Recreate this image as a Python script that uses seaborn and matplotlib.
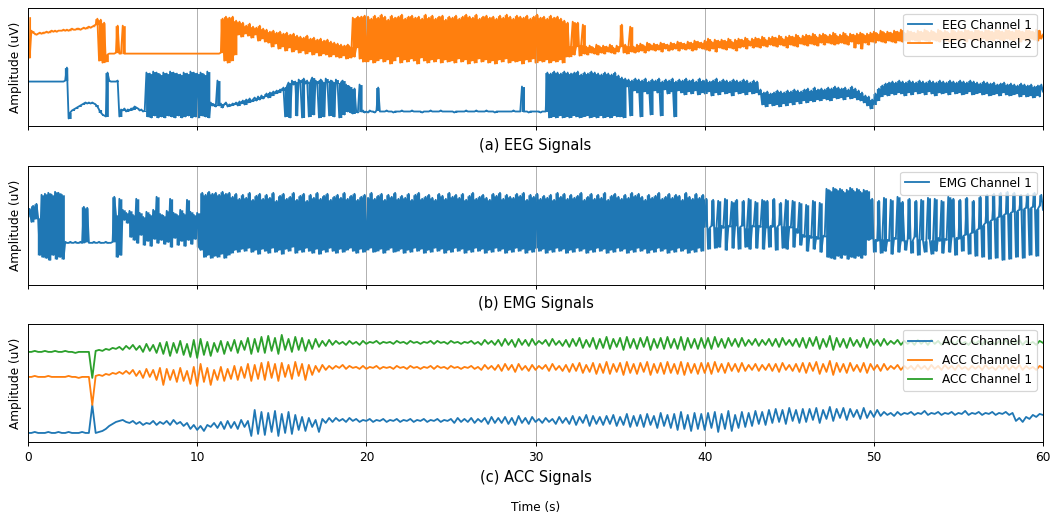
import numpy as np
import pandas as pd
import matplotlib
matplotlib.use("Agg")
import matplotlib.pyplot as plt
import seaborn as sns

plt.rcParams["font.family"] = ["DejaVu Sans"]

# ---------------- data ----------------
DT_FAST = 0.1   # EEG / EMG sampling step (s), one row = 1 s
DT_ACC = 0.2    # ACC sampling step (s), one row = 2 s
XTICKS = [0, 10, 20, 30, 40, 50, 60]

eeg_ch1 = [
    45, 45, 45, 45, 45, 45, 45, 45, 45, 45,
    45, 45, 45, 45, 45, 45, 45, 45, 45, 45,
    45, 45, 46, 59, 8, 14, 16, 17, 18, 19,
    20, 21, 22, 23, 24, 23, 24, 23, 24, 23,
    22, 20, 17, 14, 12, 11, 10, 54, 46, 45,
    45, 45, 45, 46, 10, 17, 16, 18, 15, 17,
    16, 18, 17, 20, 19, 18, 16, 17, 15, 16,
    54, 10, 53, 9, 55, 11, 54, 9, 52, 10,
    54, 9, 53, 11, 55, 10, 54, 9, 53, 11,
    52, 9, 54, 10, 53, 11, 55, 9, 54, 10,
    53, 9, 54, 11, 52, 10, 55, 9, 24, 21,
    22, 20, 46, 21, 23, 19, 22, 24, 20, 22,
    21, 23, 22, 24, 21, 25, 23, 26, 22, 27,
    24, 28, 25, 27, 29, 26, 30, 27, 31, 28,
    30, 33, 29, 34, 31, 35, 33, 36, 34, 37,
    36, 39, 10, 40, 44, 9, 46, 42, 45, 11,
    47, 44, 9, 48, 43, 46, 10, 45, 49, 12,
    46, 43, 9, 47, 45, 10, 48, 44, 11, 46,
    45, 10, 47, 43, 9, 44, 46, 12, 42, 15,
    40, 14, 13, 38, 15, 14, 42, 15, 16, 14,
    15, 14, 16, 15, 15, 14, 16, 39, 15, 15,
    15, 15, 16, 15, 15, 15, 14, 15, 15, 15,
    15, 16, 15, 15, 15, 15, 15, 16, 15, 15,
    15, 15, 15, 14, 15, 15, 15, 15, 16, 15,
    15, 15, 15, 15, 16, 15, 15, 15, 15, 15,
    15, 15, 14, 15, 15, 15, 15, 15, 15, 16,
    15, 15, 15, 15, 15, 16, 15, 15, 15, 15,
    15, 16, 15, 15, 15, 15, 14, 15, 15, 15,
    15, 15, 15, 15, 15, 15, 15, 16, 15, 15,
    15, 15, 40, 15, 15, 15, 14, 15, 15, 15,
    15, 15, 15, 14, 15, 15, 15, 54, 9, 53,
    10, 55, 9, 54, 11, 53, 9, 55, 10, 54,
    9, 53, 11, 54, 10, 55, 9, 52, 10, 54,
    11, 53, 9, 55, 10, 54, 9, 53, 11, 52,
    9, 54, 10, 53, 9, 52, 11, 54, 10, 51,
    10, 49, 9, 48, 40, 47, 11, 46, 36, 48,
    34, 47, 10, 46, 35, 48, 33, 45, 12, 47,
    36, 46, 34, 48, 11, 45, 37, 47, 33, 46,
    35, 48, 10, 45, 36, 47, 34, 46, 32, 48,
    35, 46, 33, 47, 36, 45, 32, 48, 34, 46,
    33, 47, 35, 45, 31, 46, 34, 48, 32, 45,
    35, 47, 33, 46, 34, 45, 31, 47, 35, 46,
    33, 45, 34, 47, 32, 46, 35, 44, 33, 46,
    34, 45, 32, 37, 22, 34, 20, 35, 23, 33,
    21, 34, 22, 36, 20, 35, 23, 34, 21, 36,
    24, 35, 22, 37, 25, 36, 23, 35, 26, 37,
    24, 38, 26, 36, 25, 39, 27, 37, 26, 38,
    28, 37, 27, 39, 26, 38, 29, 40, 28, 39,
    29, 38, 27, 39, 30, 37, 28, 40, 29, 38,
    27, 36, 26, 34, 24, 31, 21, 30, 18, 27,
    22, 33, 26, 38, 30, 41, 32, 43, 31, 44,
    33, 45, 32, 44, 34, 46, 33, 45, 31, 44,
    34, 46, 32, 45, 35, 44, 33, 46, 34, 45,
    32, 44, 35, 46, 33, 45, 31, 44, 34, 46,
    33, 45, 34, 44, 32, 46, 35, 45, 33, 44,
    34, 46, 32, 45, 33, 44, 35, 46, 32, 45,
    33, 44, 34, 43, 32, 45, 33, 44, 31, 43,
    32, 44, 33, 42, 31, 43, 34, 44, 32, 42,
    31, 43, 32, 42, 33, 41, 30, 43, 32, 42,
    30, 41, 31, 42, 29, 40, 31, 41, 30, 42,
    35,
]

eeg_ch2 = [
    110, 69, 96, 94, 93, 92, 93, 94, 93, 94,
    94, 95, 94, 95, 96, 95, 96, 95, 96, 96,
    96, 97, 96, 97, 96, 97, 98, 97, 97, 98,
    98, 97, 98, 99, 98, 99, 100, 99, 100, 101,
    102, 108, 66, 107, 64, 104, 65, 72, 73, 73,
    73, 73, 74, 101, 73, 73, 101, 73, 73, 73,
    73, 73, 73, 73, 73, 73, 73, 73, 73, 73,
    73, 73, 73, 73, 73, 73, 73, 73, 73, 73,
    73, 73, 73, 73, 73, 73, 73, 73, 73, 73,
    73, 73, 73, 73, 73, 73, 73, 73, 73, 73,
    73, 73, 73, 73, 73, 73, 73, 73, 73, 73,
    73, 73, 73, 73, 74, 108, 66, 110, 64, 109,
    66, 110, 72, 106, 92, 105, 90, 104, 93, 101,
    91, 103, 89, 100, 92, 99, 86, 101, 88, 98,
    85, 97, 84, 95, 80, 96, 83, 94, 78, 95,
    80, 93, 76, 94, 79, 92, 75, 93, 77, 91,
    74, 90, 76, 89, 73, 91, 75, 88, 72, 89,
    74, 87, 71, 88, 73, 86, 72, 87, 70, 85,
    72, 84, 70, 83, 69, 82, 71, 81, 68, 82,
    80, 69, 109, 70, 79, 110, 68, 110, 65, 111,
    65, 110, 67, 108, 64, 111, 66, 109, 68, 112,
    65, 110, 67, 107, 63, 111, 66, 109, 70, 110,
    64, 112, 67, 108, 65, 110, 68, 111, 66, 109,
    63, 110, 69, 108, 66, 112, 64, 109, 67, 111,
    65, 108, 68, 110, 64, 111, 67, 107, 65, 110,
    66, 109, 64, 111, 68, 108, 65, 110, 67, 112,
    63, 110, 66, 109, 64, 112, 68, 108, 65, 110,
    67, 111, 64, 109, 66, 110, 63, 108, 67, 111,
    65, 109, 68, 112, 64, 110, 66, 108, 65, 111,
    66, 110, 63, 109, 67, 111, 65, 108, 68, 110,
    64, 112, 66, 109, 65, 110, 67, 108, 64, 111,
    66, 109, 65, 110, 67, 108, 64, 106, 70, 104,
    70, 81, 105, 72, 80, 104, 71, 82, 102, 73,
    80, 72, 81, 74, 79, 73, 82, 72, 80, 74,
    81, 73, 80, 75, 82, 74, 79, 73, 81, 75,
    80, 102, 74, 82, 73, 81, 100, 75, 80, 74,
    82, 75, 83, 76, 81, 74, 84, 76, 82, 77,
    83, 76, 82, 77, 84, 75, 83, 78, 82, 76,
    84, 77, 83, 78, 85, 76, 84, 78, 83, 77,
    85, 78, 84, 76, 86, 77, 85, 79, 84, 78,
    86, 77, 88, 76, 85, 78, 87, 75, 86, 79,
    87, 78, 86, 77, 88, 79, 85, 78, 87, 76,
    88, 79, 87, 80, 89, 78, 86, 81, 88, 79,
    89, 80, 88, 79, 90, 81, 87, 80, 89, 82,
    90, 81, 89, 80, 91, 82, 88, 81, 90, 79,
    91, 82, 90, 81, 92, 80, 89, 83, 91, 82,
    92, 81, 91, 83, 93, 82, 90, 81, 92, 84,
    93, 82, 91, 84, 92, 83, 94, 82, 91, 83,
    92, 84, 94, 83, 91, 82, 93, 85, 92, 79,
    93, 83, 94, 78, 92, 84, 93, 82, 94, 85,
    95, 84, 93, 86, 96, 85, 94, 84, 95, 86,
    94, 85, 96, 84, 95, 86, 97, 85, 94, 86,
    96, 85, 95, 87, 94, 86, 96, 84, 95, 87,
    97, 86, 95, 85, 96, 87, 94, 86, 97, 85,
    95, 87, 96, 86, 94, 85, 97, 86, 95, 87,
    96, 86, 95, 87, 97, 85, 96, 88, 95, 86,
    97, 87, 96, 86, 95, 88, 97, 86, 96, 87,
    95, 86, 97, 88, 96, 87, 95, 86, 97, 88,
    96, 87, 95, 86, 97, 88, 96, 85, 95, 87,
    97, 86, 96, 88, 95, 87, 97, 86, 96, 88,
    92,
]

emg_ch1 = [
    68, 76, 63, 79, 66, 81, 67, 30, 90, 28,
    91, 27, 92, 25, 90, 30, 93, 26, 92, 28,
    90, 26, 43, 42, 42, 43, 42, 42, 43, 42,
    42, 43, 42, 78, 43, 77, 42, 42, 42, 43,
    42, 42, 43, 42, 42, 42, 43, 42, 42, 42,
    43, 88, 70, 28, 86, 30, 75, 65, 72, 62,
    74, 48, 70, 45, 86, 42, 72, 50, 68, 40,
    73, 44, 70, 39, 75, 46, 88, 42, 71, 45,
    69, 41, 74, 43, 86, 38, 72, 47, 70, 40,
    75, 44, 71, 39, 85, 45, 73, 41, 70, 46,
    72, 38, 35, 92, 28, 90, 30, 93, 27, 91,
    29, 92, 28, 90, 31, 93, 27, 91, 30, 92,
    32, 88, 35, 91, 33, 86, 36, 90, 34, 87,
    37, 92, 33, 85, 35, 89, 31, 91, 36, 86,
    34, 90, 32, 87, 37, 92, 33, 84, 35, 89,
    31, 91, 36, 86, 34, 88, 38, 92, 32, 85,
    35, 89, 33, 91, 37, 84, 34, 90, 32, 87,
    36, 92, 31, 86, 35, 89, 33, 91, 37, 85,
    34, 88, 32, 90, 36, 87, 33, 92, 35, 86,
    37, 89, 34, 91, 32, 85, 36, 88, 33, 90,
    35, 87, 37, 92, 33, 86, 34, 89, 36, 91,
    32, 85, 35, 90, 37, 88, 33, 92, 34, 86,
    36, 89, 32, 87, 35, 91, 33, 85, 37, 90,
    34, 92, 36, 86, 32, 88, 35, 90, 33, 87,
    37, 85, 34, 91, 36, 89, 32, 86, 35, 92,
    33, 88, 37, 90, 34, 87, 36, 91, 32, 85,
    35, 89, 33, 92, 37, 86, 34, 88, 36, 90,
    32, 87, 35, 85, 33, 91, 37, 89, 34, 92,
    36, 86, 32, 90, 35, 88, 33, 87, 37, 91,
    34, 89, 36, 92, 32, 85, 35, 90, 33, 88,
    37, 91, 34, 86, 36, 89, 32, 87, 35, 90,
    33, 85, 37, 92, 34, 88, 36, 91, 32, 86,
    35, 90, 33, 87, 37, 89, 34, 92, 36, 85,
    32, 88, 35, 91, 33, 86, 37, 90, 34, 87,
    36, 92, 32, 85, 35, 89, 33, 91, 37, 88,
    34, 86, 36, 90, 32, 87, 35, 92, 33, 89,
    37, 91, 34, 88, 36, 85, 32, 90, 35, 87,
    33, 89, 37, 92, 34, 86, 36, 88, 32, 91,
    35, 87, 33, 90, 37, 89, 34, 85, 36, 92,
    32, 88, 35, 86, 33, 91, 37, 87, 34, 90,
    58, 86, 36, 57, 59, 85, 37, 58, 84, 38,
    59, 57, 86, 35, 58, 60, 83, 37, 59, 85,
    36, 58, 59, 84, 38, 57, 86, 36, 58, 60,
    83, 37, 59, 58, 85, 36, 57, 84, 38, 59,
    58, 86, 35, 58, 60, 82, 37, 59, 85, 36,
    57, 59, 84, 38, 56, 52, 82, 40, 50, 48,
    80, 34, 49, 47, 84, 36, 48, 46, 82, 33,
    48, 50, 96, 28, 94, 27, 97, 26, 95, 29,
    96, 27, 93, 30, 95, 26, 97, 28, 94, 27,
    96, 29, 93, 27, 95, 30, 94, 45, 46, 86,
    33, 45, 44, 84, 32, 46, 87, 34, 45, 44,
    85, 31, 47, 46, 88, 33, 44, 83, 45, 35,
    46, 86, 32, 44, 48, 84, 30, 46, 85, 45,
    33, 44, 87, 46, 31, 45, 86, 34, 47, 44,
    84, 32, 46, 45, 88, 33, 48, 86, 30, 47,
    46, 85, 34, 49, 50, 87, 31, 51, 52, 84,
    29, 55, 56, 88, 28, 60, 62, 90, 26, 64,
    65, 91, 27, 67, 68, 92, 25, 70, 71, 93,
    26, 72, 73, 92, 28, 74, 75, 90, 27, 76,
    77, 91, 30, 77, 78, 92, 29, 76, 79, 90,
    75,
]

acc_ch1_a = [
    9, 9, 10, 9, 9, 9, 10, 9, 9, 10,
    9, 9, 10, 9, 9, 9, 10, 9, 9, 37,
    9, 10, 11, 13, 16, 18, 20, 21, 22, 20,
    19, 21, 18, 20, 17, 19, 18, 21, 17, 20,
    18, 21, 17, 22, 18, 20, 16, 19, 13, 17,
    12, 16, 11, 17, 15, 19, 14, 20, 13, 21,
    14, 20, 13, 22, 15, 21, 6, 32, 8, 30,
    7, 29, 10, 31, 6, 28, 9, 30, 8, 27,
    12, 25, 11, 24, 15, 22, 10, 23, 19, 24,
    20, 24, 21, 23, 20, 24, 21, 23, 20, 22,
    21, 23, 20, 22, 21, 23, 20, 22, 21, 23,
    20, 22, 21, 23, 20, 22, 21, 23, 20, 22,
    21, 23, 20, 22, 21, 23, 19, 24, 20, 23,
    20, 24, 19, 23, 20, 24, 18, 25, 19, 24,
    19, 25, 18, 24, 17, 26, 19, 24, 18, 25,
    20, 23, 19, 24, 20, 23, 18, 25, 19, 24,
    18, 26, 17, 25, 19, 27, 16, 26, 18, 25,
    17, 26, 18, 27, 16, 25, 17, 28, 15, 26,
    16, 27, 15, 28, 17, 26, 14, 29, 16, 27,
    14, 28, 12, 30, 13, 27, 11, 29, 13, 28,
    12, 29, 14, 30, 10, 28, 13, 31, 11, 27,
    14, 30, 15, 29, 16, 31, 18, 30, 17, 32,
    19, 33, 20, 32, 18, 34, 21, 32, 19, 33,
    20, 33, 22, 34, 19, 32, 23, 35, 21, 33,
    24, 34, 22, 33, 25, 32, 23, 34, 24, 31,
    25, 32, 26, 30, 27, 29, 26, 30, 27, 29,
    28, 30, 27, 29, 28, 31, 27, 29, 28, 30,
    27, 29, 28, 30, 27, 29, 28, 31, 27, 29,
    28, 30, 27, 29, 28, 30, 27, 29, 28, 30,
    27, 29, 21, 24, 20, 25, 23, 27, 25, 28,
    27,
]

acc_ch1_b = [
    65, 65, 66, 65, 65, 65, 66, 65, 65, 65,
    65, 65, 66, 65, 65, 64, 65, 65, 65, 37,
    66, 67, 66, 68, 67, 69, 68, 70, 68, 71,
    68, 72, 66, 71, 64, 73, 65, 72, 62, 74,
    57, 73, 62, 72, 60, 74, 61, 71, 58, 75,
    56, 78, 60, 74, 57, 72, 62, 75, 61, 73,
    63, 76, 62, 75, 64, 78, 61, 77, 63, 79,
    62, 80, 64, 78, 61, 79, 65, 77, 63, 80,
    66, 78, 62, 77, 67, 76, 70, 77, 72, 76,
    73, 76, 74, 77, 73, 76, 74, 75, 73, 76,
    73, 75, 74, 76, 73, 75, 74, 75, 73, 76,
    74, 75, 73, 76, 74, 75, 73, 75, 74, 76,
    73, 76, 74, 75, 73, 76, 74, 75, 73, 75,
    74, 76, 73, 75, 72, 77, 73, 76, 72, 77,
    71, 78, 72, 77, 70, 78, 72, 76, 71, 77,
    72, 76, 73, 77, 71, 78, 72, 76, 71, 77,
    70, 78, 71, 79, 69, 77, 70, 79, 68, 78,
    69, 80, 68, 78, 70, 79, 67, 80, 69, 78,
    68, 79, 70, 80, 67, 78, 69, 79, 68, 80,
    69, 78, 68, 80, 67, 79, 69, 78, 68, 79,
    69, 79, 68, 80, 70, 78, 69, 79, 71, 78,
    70, 79, 71, 77, 72, 78, 71, 77, 72, 78,
    71, 78, 70, 79, 72, 77, 71, 78, 70, 79,
    69, 79, 71, 80, 68, 78, 70, 81, 67, 79,
    70, 78, 69, 79, 71, 77, 70, 79, 69, 78,
    72, 77, 71, 78, 72, 76, 73, 77, 72, 76,
    73, 76, 72, 77, 73, 76, 72, 77, 73, 76,
    72, 77, 73, 76, 72, 77, 73, 75, 72, 76,
    73, 76, 72, 77, 73, 75, 72, 76, 73, 77,
    72, 76, 73, 77, 72, 76, 73, 75, 72, 76,
    74,
]

acc_ch1_c = [
    90, 90, 91, 90, 90, 91, 90, 90, 91, 90,
    90, 91, 90, 90, 89, 90, 90, 90, 90, 64,
    91, 92, 91, 93, 92, 94, 93, 95, 92, 96,
    93, 97, 92, 96, 90, 98, 91, 97, 89, 99,
    88, 100, 86, 99, 89, 101, 87, 98, 85, 102,
    84, 103, 87, 100, 86, 99, 90, 101, 88, 100,
    91, 102, 89, 101, 92, 104, 88, 103, 90, 105,
    89, 106, 91, 104, 88, 107, 92, 103, 90, 105,
    92, 104, 91, 102, 93, 103, 95, 101, 96, 102,
    97, 101, 98, 100, 97, 101, 98, 100, 97, 101,
    98, 100, 99, 101, 98, 100, 99, 100, 98, 101,
    99, 100, 98, 101, 99, 100, 98, 100, 99, 101,
    98, 101, 99, 100, 98, 101, 99, 100, 98, 100,
    99, 101, 98, 100, 97, 102, 98, 101, 97, 102,
    96, 103, 97, 102, 95, 103, 97, 102, 96, 103,
    97, 101, 98, 102, 96, 103, 97, 101, 96, 102,
    95, 103, 96, 104, 94, 102, 95, 104, 93, 103,
    94, 105, 93, 103, 95, 104, 92, 105, 94, 103,
    93, 104, 95, 105, 92, 103, 94, 104, 93, 105,
    94, 103, 93, 105, 92, 104, 94, 103, 93, 104,
    94, 104, 93, 105, 95, 103, 94, 104, 96, 103,
    95, 104, 96, 102, 97, 103, 96, 102, 97, 103,
    96, 103, 95, 104, 97, 102, 96, 103, 95, 104,
    94, 104, 96, 105, 93, 103, 95, 106, 92, 104,
    95, 103, 94, 104, 96, 102, 95, 104, 94, 103,
    97, 102, 96, 103, 97, 101, 98, 102, 97, 101,
    98, 101, 97, 102, 98, 101, 97, 102, 98, 101,
    97, 102, 98, 101, 97, 102, 98, 100, 97, 101,
    98, 101, 97, 102, 98, 100, 97, 101, 98, 102,
    97, 101, 98, 102, 97, 101, 98, 100, 97, 101,
    99,
]

panels = [
    {"series": [eeg_ch1, eeg_ch2], "labels": ["EEG Channel 1", "EEG Channel 2"],
     "title": "(a) EEG Signals", "dt": DT_FAST, "dense": True},
    {"series": [emg_ch1], "labels": ["EMG Channel 1"], "title": "(b) EMG Signals",
     "dt": DT_FAST, "dense": True},
    {"series": [acc_ch1_a, acc_ch1_b, acc_ch1_c],
     "labels": ["ACC Channel 1", "ACC Channel 1", "ACC Channel 1"],
     "title": "(c) ACC Signals", "dt": DT_ACC, "dense": False},
]
COLORS = ["#1f77b4", "#ff7f0e", "#2ca02c"]

# ---------------- figure ----------------
DPI = 87.5
W, H = 1050, 514
fig = plt.figure(figsize=(W / DPI, (H + 0.3) / DPI), dpi=DPI)

# axes boxes in pixel coordinates (left, top, right, bottom)
boxes = [(28, 8, 1043, 126.7), (28, 166, 1043, 285), (28, 324, 1043, 442)]
ylims = [(0, 119), (0, 119), (0, 118)]

for i, (panel, box) in enumerate(zip(panels, boxes)):
    l, t, r, b = box
    ax = fig.add_axes([l / W, 1 - b / H, (r - l) / W, (b - t) / H])
    for j, (vals, lab) in enumerate(zip(panel["series"], panel["labels"])):
        dt = panel["dt"]
        idx = np.arange(len(vals))
        df = pd.DataFrame({"t": idx * dt, "v": vals,
                           "tb": (idx // 2) * 2 * dt + dt / 2})
        if panel["dense"]:
            # min-max envelope of each sample pair: renders the densely
            # oscillating stretches as the solid band seen in the original
            sns.lineplot(data=df, x="tb", y="v", ax=ax, color=COLORS[j],
                         estimator="mean", errorbar=("pi", 100), linewidth=0,
                         err_kws={"alpha": 1, "linewidth": 0, "step": "mid"},
                         legend=False)
        sns.lineplot(data=df, x="t", y="v", ax=ax, color=COLORS[j],
                     label=lab, linewidth=1.5, estimator=None)
    ax.set_xlim(0, 60)
    ax.set_ylim(*ylims[i])
    ax.set_xticks(XTICKS)
    ax.set_yticks([])
    ax.set_xlabel("")
    ax.set_ylabel("")
    ax.grid(axis="x", color="#b0b0b0", linewidth=0.8)
    ax.set_ylabel("Amplitude (uV)", fontsize=10, labelpad=5)
    ax.tick_params(axis="x", labelsize=10)
    if i < 2:
        ax.tick_params(axis="x", labelbottom=False)
        ax.set_xlabel(panel["title"], fontsize=12, labelpad=5.5)
    else:
        ax.set_xlabel(panel["title"], fontsize=12, labelpad=5)
    ax.legend(loc="upper right", fontsize=10)

fig.text(535.5 / W, 1 - 507.5 / H, "Time (s)", ha="center", va="center", fontsize=10)

fig.savefig("out.png", dpi=DPI)
